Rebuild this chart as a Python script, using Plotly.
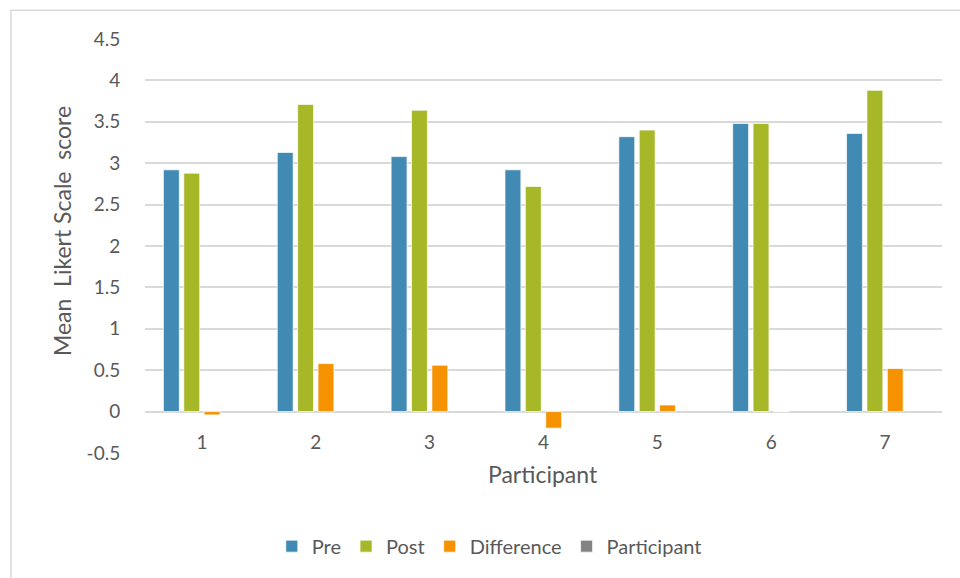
import plotly.graph_objects as go

# Mean Likert scale scores per participant
participants = ["1", "2", "3", "4", "5", "6", "7"]
pre = [2.92, 3.13, 3.08, 2.92, 3.32, 3.48, 3.36]
post = [2.88, 3.71, 3.64, 2.72, 3.40, 3.48, 3.88]
difference = [-0.04, 0.58, 0.56, -0.20, 0.08, 0.00, 0.52]
participant_series = [None] * 7

y_ticks = [-0.5, 0, 0.5, 1, 1.5, 2, 2.5, 3, 3.5, 4, 4.5]
y_tick_text = ["-0.5", "0", "0.5", "1", "1.5", "2", "2.5", "3", "3.5", "4", "4.5"]

FONT = "Lato"
TEXT = "#595959"
GRID = "#d9d9d9"

W, H = 960, 578
L, R, T, B = 145, 18, 39, 123
plot_w = W - L - R
plot_h = H - T - B

edge = dict(color="rgba(255,255,255,0.7)", width=1)

fig = go.Figure()
fig.add_trace(go.Bar(name="Pre", x=participants, y=pre,
                     marker=dict(color="#418AB3", line=edge)))
fig.add_trace(go.Bar(name="Post", x=participants, y=post,
                     marker=dict(color="#A6B727", line=edge)))
fig.add_trace(go.Bar(name="Difference", x=participants, y=difference,
                     marker=dict(color="#F69200", line=edge)))
fig.add_trace(go.Bar(name="Participant", x=participants, y=participant_series,
                     marker=dict(color="#838383", line=edge)))

# zero line position within the plot area (paper units)
zero_pos = (0 - y_ticks[0]) / (y_ticks[-1] - y_ticks[0])

fig.update_layout(
    width=W, height=H,
    margin=dict(l=L, r=R, t=T, b=B, pad=0),
    paper_bgcolor="white", plot_bgcolor="white",
    barmode="group", bargap=0.284, bargroupgap=0.22,
    font=dict(family=FONT, size=19, color=TEXT),
    showlegend=True,
    legend=dict(orientation="h", x=0.432, xanchor="center",
                y=-0.225, yanchor="middle",
                font=dict(family=FONT, size=20, color=TEXT),
                itemclick=False),
    xaxis=dict(type="category", categoryorder="array", categoryarray=participants,
               anchor="free", position=zero_pos,
               showline=False, showgrid=False, zeroline=False,
               ticks="outside", ticklen=14, tickcolor="rgba(0,0,0,0)",
               tickfont=dict(family=FONT, size=19, color=TEXT)),
    yaxis=dict(range=[y_ticks[0], y_ticks[-1]],
               tickvals=y_ticks, ticktext=y_tick_text,
               showgrid=True, gridcolor=GRID, gridwidth=1.5,
               zeroline=False, showline=False,
               ticks="outside", ticklen=20, tickcolor="rgba(0,0,0,0)",
               tickfont=dict(family=FONT, size=19, color=TEXT)),
)

# axis titles
fig.add_annotation(text="Participant", xref="paper", yref="paper",
                   x=(543 - L) / plot_w, y=(H - B - 476) / plot_h,
                   showarrow=False, xanchor="center", yanchor="middle",
                   font=dict(family=FONT, size=23, color=TEXT))
fig.add_annotation(text="Mean  Likert Scale  score", xref="paper", yref="paper",
                   x=(62 - L) / plot_w, y=(H - B - 232) / plot_h, textangle=-90,
                   showarrow=False, xanchor="center", yanchor="middle",
                   font=dict(family=FONT, size=23, color=TEXT))

# chart frame
fig.add_shape(type="rect", xref="paper", yref="paper",
              x0=(11 - L) / plot_w, x1=(W + 20 - L) / plot_w,
              y0=(H - B - (H + 20)) / plot_h, y1=(H - B - 10) / plot_h,
              line=dict(color=GRID, width=1.5), fillcolor="rgba(0,0,0,0)",
              layer="below")

fig.write_html("out.html")
